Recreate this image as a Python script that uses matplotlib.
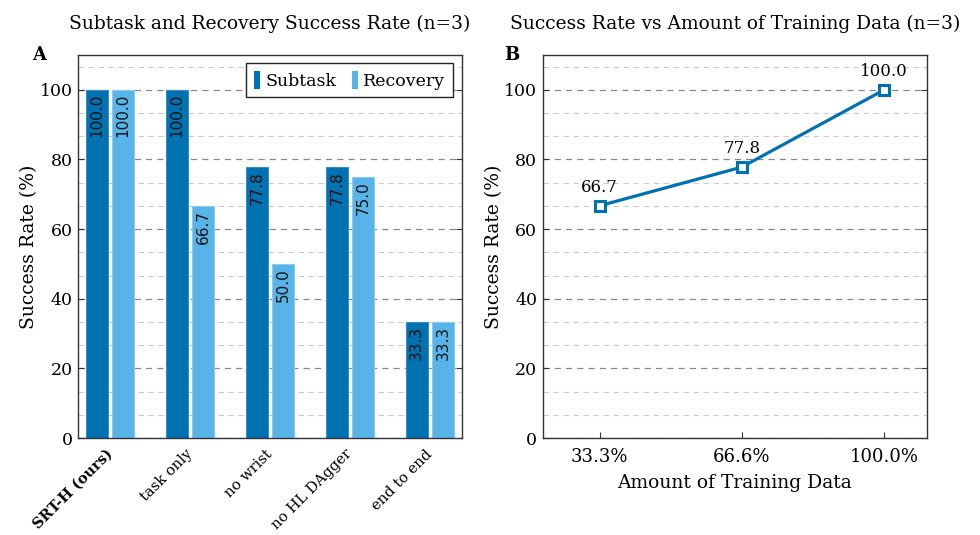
import matplotlib.pyplot as plt
import numpy as np
from matplotlib.ticker import MultipleLocator, AutoMinorLocator
from matplotlib.patches import Rectangle

# dados
metodos = ['SRT-H (ours)', 'task only', 'no wrist', 'no HL DAgger', 'end to end']
subtask = [100.0, 100.0, 77.8, 77.8, 33.3]
recovery = [100.0, 66.7, 50.0, 75.0, 33.3]

dados_pct = [33.3, 66.6, 100.0]
dados_labels = ['33.3%', '66.6%', '100.0%']
sucesso = [66.7, 77.8, 100.0]

azul_escuro = '#0072B2'
azul_claro = '#56B4E9'

plt.rcParams['font.family'] = 'DejaVu Serif'
plt.rcParams['mathtext.fontset'] = 'dejavuserif'

fig = plt.figure(figsize=(9.8, 5.35), dpi=100)
axA = fig.add_axes([0.0796, 0.1813, 0.3918, 0.7159])
axB = fig.add_axes([0.554, 0.1813, 0.3918, 0.7159])


def estilo_eixo(ax):
    ax.set_ylim(0, 110)
    ax.yaxis.set_major_locator(MultipleLocator(20))
    ax.yaxis.set_minor_locator(AutoMinorLocator(3))
    ax.grid(True, which='major', axis='y', color='#888888', linestyle=(0, (5, 4)), linewidth=0.9)
    ax.grid(True, which='minor', axis='y', color='#cccccc', linestyle=(0, (5, 4)), linewidth=0.8)
    ax.set_axisbelow(True)
    for s in ax.spines.values():
        s.set_color('#333333')
        s.set_linewidth(1.0)
    ax.tick_params(axis='y', which='major', direction='in', length=4, right=True,
                   labelsize=12.5, colors='#333333', labelcolor='black', pad=4)
    ax.tick_params(axis='y', which='minor', length=0)
    ax.set_ylabel('Success Rate (%)', fontsize=13.5, labelpad=1)


# --- Painel A
estilo_eixo(axA)
x = np.arange(len(metodos))
w = 0.28
off = 0.165
barras1 = axA.bar(x - off, subtask, w, color=azul_escuro, edgecolor='#3c8cc4', linewidth=0.8, label='Subtask')
barras2 = axA.bar(x + off, recovery, w, color=azul_claro, edgecolor='#8ccbf0', linewidth=0.8, label='Recovery')
axA.set_xlim(-0.4, 4.4)
axA.set_xticks(x)
axA.set_xticklabels(metodos, rotation=45, ha='right', va='center', rotation_mode='anchor', fontsize=10.5)
axA.get_xticklabels()[0].set_fontweight('bold')
axA.tick_params(axis='x', length=0, pad=10)

for b in list(barras1) + list(barras2):
    h = b.get_height()
    axA.annotate(f'{h:.1f}', (b.get_x() + b.get_width() / 2, h), xytext=(0, -3),
                 textcoords='offset points', rotation=90, ha='center', va='top',
                 fontsize=11, family='DejaVu Sans', color='#111111')

alcas = [Rectangle((0, 0), 1, 1, facecolor=azul_escuro, edgecolor='none'),
         Rectangle((0, 0), 1, 1, facecolor=azul_claro, edgecolor='none')]
leg = axA.legend(alcas, ['Subtask', 'Recovery'], loc='upper right', ncol=2, fontsize=12.5,
                 handlelength=0.35, handleheight=1.2, handletextpad=0.3, columnspacing=0.9,
                 frameon=True, fancybox=False, edgecolor='#222222', framealpha=1,
                 borderpad=0.45, borderaxespad=0, bbox_to_anchor=(0.977, 0.979))
leg.get_frame().set_linewidth(1.0)

axA.set_title('Subtask and Recovery Success Rate (n=3)', fontsize=13.4, pad=19)
axA.text(-0.1, 1.0, 'A', transform=axA.transAxes, fontsize=13, fontweight='bold', va='center', ha='center')

# --- Painel B
estilo_eixo(axB)
axB.plot(dados_pct, sucesso, color=azul_escuro, linewidth=2.3, marker='s', markersize=7,
         markerfacecolor='white', markeredgecolor=azul_escuro, markeredgewidth=2.2)
for xv, yv in zip(dados_pct, sucesso):
    axB.annotate(f'{yv:.1f}', (xv, yv), xytext=(0, 7), textcoords='offset points',
                 ha='center', va='bottom', fontsize=12)
axB.set_xlim(20, 110)
axB.set_xticks(dados_pct)
axB.set_xticklabels(dados_labels, fontsize=13)
axB.tick_params(axis='x', direction='in', length=4, colors='#333333', labelcolor='black', pad=7)
axB.set_xlabel('Amount of Training Data', fontsize=13.5, labelpad=6)
axB.set_title('Success Rate vs Amount of Training Data (n=3)', fontsize=13.4, pad=19)
axB.text(-0.08, 1.0, 'B', transform=axB.transAxes, fontsize=13, fontweight='bold', va='center', ha='center')

fig.savefig('out.png', dpi=100)
